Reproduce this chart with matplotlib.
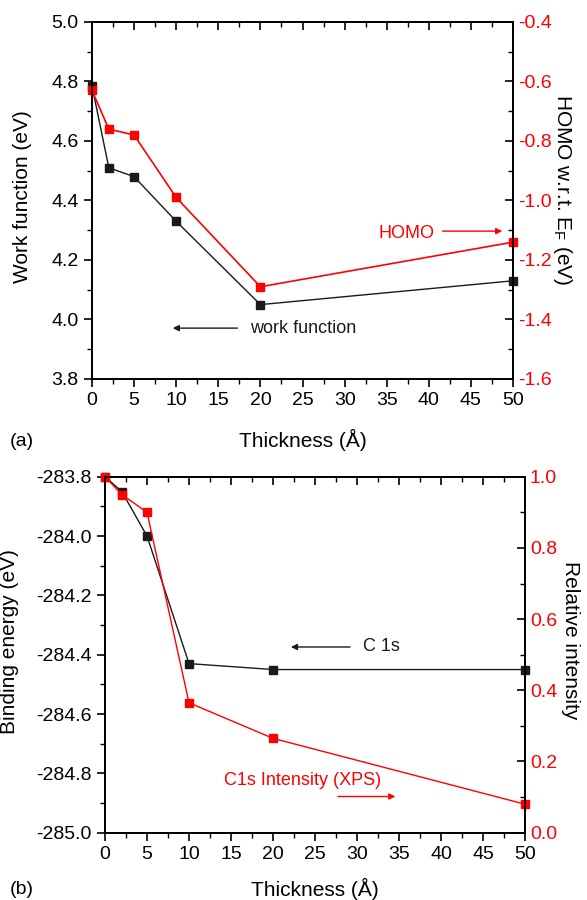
import matplotlib.pyplot as plt
from matplotlib.ticker import MultipleLocator

plt.rcParams['font.family'] = ['Liberation Sans', 'DejaVu Sans']

thickness = [0, 2, 5, 10, 20, 50]

# (a) work function and HOMO position
work_function = [4.785, 4.51, 4.48, 4.33, 4.05, 4.13]
homo = [-0.63, -0.76, -0.78, -0.99, -1.29, -1.14]

# (b) C 1s binding energy and XPS intensity
binding_energy = [-283.80, -283.85, -284.00, -284.43, -284.45, -284.45]
rel_intensity = [1.0, 0.95, 0.90, 0.365, 0.265, 0.08]

red = "#ff0000"
blk = "#1a1a1a"

fig = plt.figure(figsize=(5.87, 9.0), dpi=100)


def style_axes(ax, ax2, ymajor, yminor, y2major, y2minor):
    for a in (ax, ax2):
        for s in a.spines.values():
            s.set_linewidth(1.3)
    ax.xaxis.set_major_locator(MultipleLocator(5))
    ax.xaxis.set_minor_locator(MultipleLocator(2.5))
    ax.yaxis.set_major_locator(MultipleLocator(ymajor))
    ax.yaxis.set_minor_locator(MultipleLocator(yminor))
    ax2.yaxis.set_major_locator(MultipleLocator(y2major))
    ax2.yaxis.set_minor_locator(MultipleLocator(y2minor))
    ax.tick_params(axis="x", which="both", direction="out", top=False, labelsize=14)
    ax.tick_params(axis="y", which="both", direction="out", labelsize=14)
    ax.tick_params(which="major", length=6, width=1.2)
    ax.tick_params(which="minor", length=3.5, width=1.0)
    sec = ax.secondary_xaxis("top")
    sec.xaxis.set_major_locator(MultipleLocator(5))
    sec.xaxis.set_minor_locator(MultipleLocator(2.5))
    sec.tick_params(which="both", direction="in", labeltop=False)
    sec.tick_params(which="major", length=6, width=1.2)
    sec.tick_params(which="minor", length=3.5, width=1.0)
    sec.spines["top"].set_linewidth(1.3)
    ax2.tick_params(axis="y", which="both", direction="in", labelsize=14, labelcolor=red)
    ax2.tick_params(which="major", length=6, width=1.2)
    ax2.tick_params(which="minor", length=3.5, width=1.0)


# ---- panel (a)
ax1 = fig.add_axes([0.1567, 0.5789, 0.7173, 0.3967])
ax1b = ax1.twinx()
ax1.plot(thickness, work_function, "-s", color=blk, lw=1.0, ms=6, clip_on=False)
ax1b.plot(thickness, homo, "-s", color=red, lw=1.2, ms=6, clip_on=False)
ax1.set_xlim(0, 50)
ax1.set_ylim(3.8, 5.0)
ax1b.set_ylim(-1.6, -0.4)
style_axes(ax1, ax1b, 0.2, 0.1, 0.2, 0.1)
ax1.yaxis.set_major_formatter(lambda v, p: f"{v:.1f}")
ax1b.yaxis.set_major_formatter(lambda v, p: f"{v:.1f}")
ax1.set_xlabel("Thickness (Å)", fontsize=15, labelpad=14)
ax1.set_ylabel("Work function (eV)", fontsize=15)
ax1.yaxis.set_label_coords(-0.1425, 0.51)
ax1b.set_ylabel(r"HOMO w.r.t. E$_\mathregular{F}$ (eV)", fontsize=15, rotation=-90)
ax1b.yaxis.set_label_coords(1.145, 0.53)

ax1.annotate("", xy=(49.05, 4.297), xytext=(41.3, 4.297),
             arrowprops=dict(arrowstyle="-|>", color=red, lw=1.0, mutation_scale=9))
ax1.text(40.7, 4.29, "HOMO", color=red, fontsize=13, ha="right", va="center")
ax1.annotate("", xy=(9.26, 3.971), xytext=(17.6, 3.971),
             arrowprops=dict(arrowstyle="-|>", color=blk, lw=1.0, mutation_scale=9))
ax1.text(18.8, 3.971, "work function", color=blk, fontsize=13, ha="left", va="center")
fig.text(0.017, 0.51, "(a)", fontsize=14, va="center")

# ---- panel (b)
ax2 = fig.add_axes([0.1789, 0.0748, 0.7155, 0.3955])
ax2b = ax2.twinx()
ax2.plot(thickness, binding_energy, "-s", color=blk, lw=1.0, ms=6, clip_on=False)
ax2b.plot(thickness, rel_intensity, "-s", color=red, lw=1.0, ms=6, clip_on=False)
ax2.set_xlim(0, 50)
ax2.set_ylim(-285.0, -283.8)
ax2b.set_ylim(0.0, 1.0)
style_axes(ax2, ax2b, 0.2, 0.1, 0.2, 0.1)
ax2.yaxis.set_major_formatter(lambda v, p: f"{v:.1f}")
ax2b.yaxis.set_major_formatter(lambda v, p: f"{v:.1f}")
ax2.set_xlabel("Thickness (Å)", fontsize=15, labelpad=11)
ax2.set_ylabel("Binding energy (eV)", fontsize=15)
ax2.yaxis.set_label_coords(-0.205, 0.538)
ax2b.set_ylabel("Relative intensity", fontsize=15, rotation=-90)
ax2b.yaxis.set_label_coords(1.131, 0.54)

ax2.annotate("", xy=(21.8, -284.374), xytext=(29.5, -284.374),
             arrowprops=dict(arrowstyle="-|>", color=blk, lw=1.0, mutation_scale=9))
ax2.text(30.7, -284.374, "C 1s", color=blk, fontsize=13, ha="left", va="center")
ax2.text(14.2, -284.825, "C1s Intensity (XPS)", color=red, fontsize=13,
         ha="left", va="center")
ax2.annotate("", xy=(34.9, -284.878), xytext=(27.4, -284.878),
             arrowprops=dict(arrowstyle="-|>", color=red, lw=1.0, mutation_scale=9))
fig.text(0.017, 0.012, "(b)", fontsize=14, va="center")

fig.savefig("out.png", dpi=100)
